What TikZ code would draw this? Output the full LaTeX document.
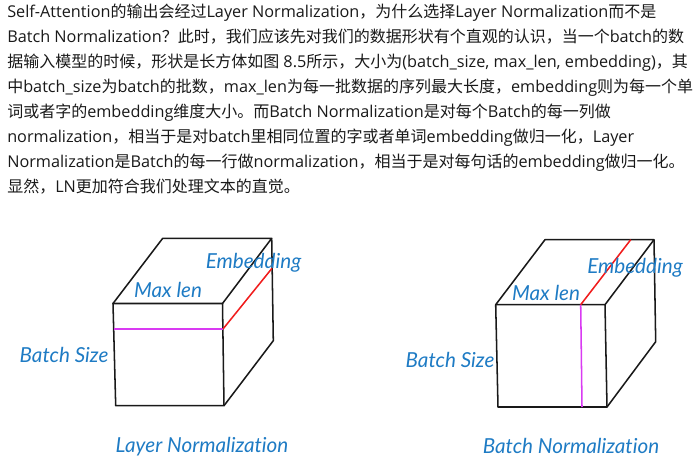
\documentclass[tikz,border=0pt]{standalone}
\usepackage{fontspec}
\setmainfont[Scale=1.015]{Open Sans}
\newfontfamily\cjk{Noto Sans CJK SC}
\newfontfamily\handfont[Ligatures=NoCommon]{Lato}
\newcommand{\zh}[1]{{\cjk #1}}
\definecolor{labelblue}{HTML}{1E7BC4}
\definecolor{sliceviola}{HTML}{D93AF2}
\definecolor{slicered}{HTML}{F01C1C}
\tikzset{
    bodyline/.style={anchor=base west, inner sep=0pt, font=\fontsize{12pt}{12pt}\selectfont, text=black!90},
    handlabel/.style={inner sep=0pt, text=labelblue, font=\handfont\itshape\fontsize{15.5pt}{15.5pt}\selectfont},
    cubeedge/.style={line width=1.15pt, black!90, line join=round}
}
\begin{document}
\begin{tikzpicture}[x=0.75pt,y=-0.75pt]
    \useasboundingbox (0,0) rectangle (700,457);

    % testo
    \node[bodyline] (line1) at (7,17) {Self-Attention\zh{的输出会经过}Layer Normalization\zh{，为什么选择}Layer Normalization\zh{而不是}};
    \node[bodyline] (line2) at (7,42) {Batch Normalization\zh{？此时，我们应该先对我们的数据形状有个直观的认识，当一个}batch\zh{的数}};
    \node[bodyline] (line3) at (7,67) {\zh{据输入模型的时候，形状是长方体如图} 8.5\zh{所示，大小为}(batch\_size, max\_len, embedding)\zh{，其}};
    \node[bodyline] (line4) at (7,92) {\zh{中}batch\_size\zh{为}batch\zh{的批数，}max\_len\zh{为每一批数据的序列最大长度，}embedding\zh{则为每一个单}};
    \node[bodyline] (line5) at (7,117) {\zh{词或者字的}embedding\zh{维度大小。而}Batch Normalization\zh{是对每个}Batch\zh{的每一列做}};
    \node[bodyline] (line6) at (7,142) {normalization\zh{，相当于是对}batch\zh{里相同位置的字或者单词}embedding\zh{做归一化，}Layer};
    \node[bodyline] (line7) at (7,167) {Normalization\zh{是}Batch\zh{的每一行做}normalization\zh{，相当于是对每句话的}embedding\zh{做归一化。}};
    \node[bodyline] (line8) at (7,192) {\zh{显然，}LN\zh{更加符合我们处理文本的直觉。}};

    % cubo sinistro
    \coordinate (LA) at (113,303.5);
    \coordinate (LB) at (222.5,303.5);
    \coordinate (LC) at (224,405.7);
    \coordinate (LD) at (115.7,405.7);
    \coordinate (LE) at (162.7,238.3);
    \coordinate (LF) at (271.7,238.3);
    \coordinate (LG) at (273.3,340.7);
    \draw[cubeedge] (LA) -- (LB) -- (LC) -- (LD) -- cycle;
    \draw[cubeedge] (LA) -- (LE) -- (LF) -- (LB);
    \draw[cubeedge] (LF) -- (LG) -- (LC);

    % sezione sinistra
    \coordinate (LM) at (113.7,329);
    \coordinate (LN) at (223,329);
    \coordinate (LP) at (272,268.3);
    \draw[sliceviola,line width=1.15pt] (LM) -- (LN);
    \draw[slicered,line width=1.15pt] (LN) -- (LP);

    % cubo destro
    \coordinate (RA) at (495.7,304.7);
    \coordinate (RB) at (605,304.7);
    \coordinate (RC) at (607,407);
    \coordinate (RD) at (498,407);
    \coordinate (RE) at (545,239.7);
    \coordinate (RF) at (654,239.7);
    \coordinate (RG) at (655.7,341.7);
    \draw[cubeedge] (RA) -- (RB) -- (RC) -- (RD) -- cycle;
    \draw[cubeedge] (RA) -- (RE) -- (RF) -- (RB);
    \draw[cubeedge] (RF) -- (RG) -- (RC);

    % sezione destra
    \coordinate (RM) at (580.7,304.7);
    \coordinate (RN) at (582,407);
    \coordinate (RP) at (630.7,239.7);
    \draw[sliceviola,line width=1.15pt] (RM) -- (RN);
    \draw[slicered,line width=1.15pt] (RM) -- (RP);

    % etichette
    \node[handlabel] (embedL) at (253.5,263) {Embedding};
    \node[handlabel] (maxL) at (168,290) {Max len};
    \node[handlabel] (batchL) at (64,355) {Batch Size};
    \node[handlabel] (titleL) at (202,447) {Layer Normalization};
    \node[handlabel] (embedR) at (635,268) {Embedding};
    \node[handlabel] (maxR) at (546,293) {Max len};
    \node[handlabel] (batchR) at (450,360) {Batch Size};
    \node[handlabel] (titleR) at (571,446) {Batch Normalization};
\end{tikzpicture}
\end{document}
